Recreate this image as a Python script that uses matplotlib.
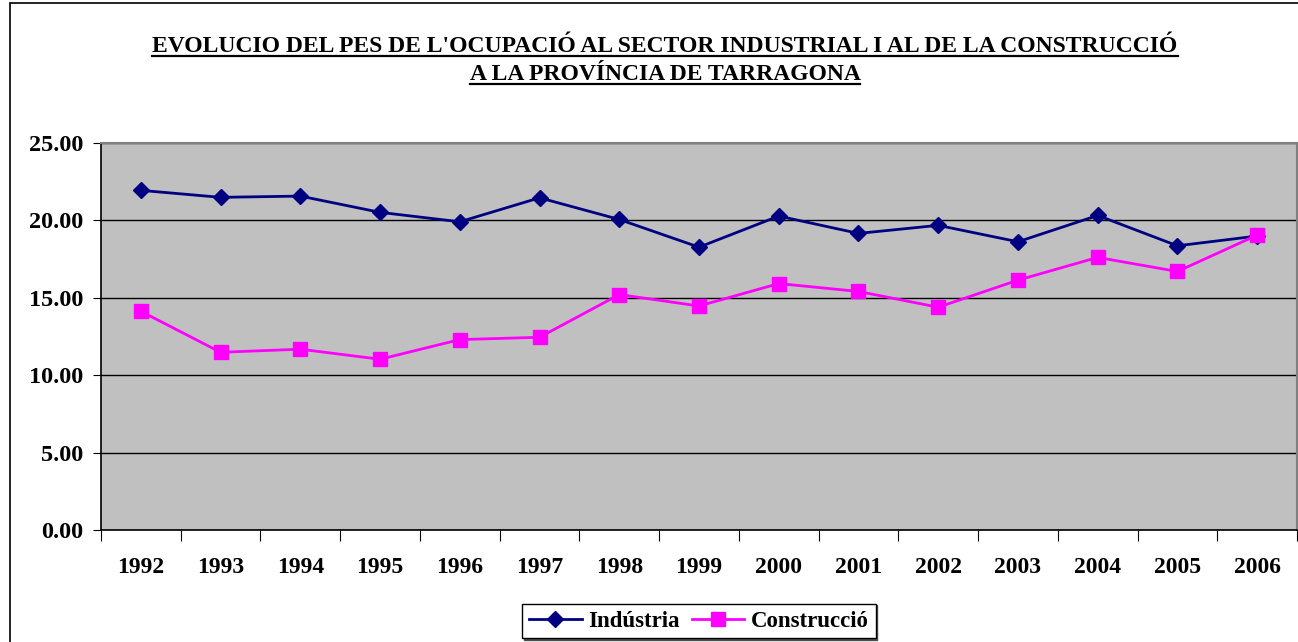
import matplotlib
matplotlib.use('Agg')
import matplotlib.pyplot as plt
from matplotlib.lines import Line2D
from matplotlib.patches import Rectangle
import numpy as np

# dades llegides del gràfic
anys = ['1992', '1993', '1994', '1995', '1996', '1997', '1998', '1999',
        '2000', '2001', '2002', '2003', '2004', '2005', '2006']
industria = [21.94, 21.49, 21.57, 20.52, 19.91, 21.46, 20.06, 18.27,
             20.28, 19.16, 19.68, 18.62, 20.32, 18.36, 18.99]
construccio = [14.13, 11.48, 11.68, 11.03, 12.30, 12.45, 15.21, 14.47,
               15.92, 15.41, 14.39, 16.14, 17.61, 16.70, 19.05]
titol = ["EVOLUCIO DEL PES DE L'OCUPACIÓ AL SECTOR INDUSTRIAL I AL DE LA CONSTRUCCIÓ",
         "A LA PROVÍNCIA DE TARRAGONA"]

W, H = 1298, 642
plt.rcParams['font.family'] = ['Liberation Serif', 'DejaVu Serif']
plt.rcParams['font.weight'] = 'bold'

fig = plt.figure(figsize=(W / 100, H / 100), dpi=100)
fig.patches.append(Rectangle((10 / W, -0.1), 1.2, 1 - 3 / H + 0.1, transform=fig.transFigure,
                             fill=False, edgecolor='black', linewidth=1.2))

ax = fig.add_axes([101 / W, 1 - 530 / H, 1196 / W, 387 / H])
ax.set_facecolor('#C0C0C0')

x = np.arange(len(anys))
ax.plot(x, industria, color='#000080', marker='D', markersize=8, linewidth=2, label='Indústria')
ax.plot(x, construccio, color='#FF00FF', marker='s', markersize=10, linewidth=2, label='Construcció')

ax.set_xlim(-0.5, len(anys) - 0.5)
ax.set_ylim(0, 25)
ax.set_yticks(np.arange(0, 26, 5))
ax.set_yticklabels([f'{v:.2f}' for v in np.arange(0, 26, 5)], fontsize=17.5, fontweight='bold')
ax.yaxis.grid(True, color='black', linewidth=1)
ax.set_axisbelow(True)

ax.set_xticks(np.arange(-0.5, len(anys), 1))
ax.set_xticklabels([])
ax.set_xticks(x, minor=True)
ax.set_xticklabels(anys, minor=True, fontsize=17, fontweight='bold')
ax.tick_params(axis='x', which='major', length=8, direction='out', color='black')
ax.tick_params(axis='x', which='minor', length=0, pad=19.5)
ax.tick_params(axis='y', length=6, direction='out', pad=7)

for s in ['top', 'right']:
    ax.spines[s].set_color('#808080')
    ax.spines[s].set_linewidth(1.5)
for s in ['left', 'bottom']:
    ax.spines[s].set_color('black')
    ax.spines[s].set_linewidth(1.2)

leg = fig.legend(loc='center', bbox_to_anchor=(699 / W, 1 - 621 / H), ncol=2,
                 frameon=True, fancybox=False, shadow={'alpha': 1.0, 'ox': 1, 'oy': -1},
                 edgecolor='black', prop={'size': 16.5, 'weight': 'bold'},
                 handlelength=2.3, handletextpad=0.3, columnspacing=0.5,
                 borderpad=0.3, borderaxespad=0)
leg.get_frame().set_linewidth(1)

# títol subratllat
textos = []
for i, linia in enumerate(titol):
    t = fig.text(665 / W, 1 - (46 + 28 * i) / H, linia, ha='center', va='center',
                 fontsize=17, fontweight='bold')
    textos.append(t)
fig.canvas.draw()
ren = fig.canvas.get_renderer()
for t in textos:
    bb = t.get_window_extent(ren)
    yl = (bb.y0 + 1) / H
    fig.add_artist(Line2D([bb.x0 / W, bb.x1 / W], [yl, yl], transform=fig.transFigure,
                          color='black', linewidth=1.6))

fig.savefig('out.png', dpi=100)
